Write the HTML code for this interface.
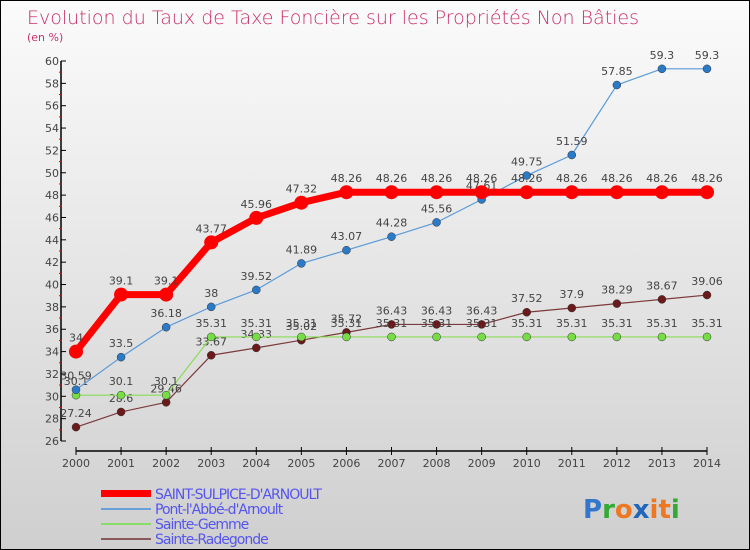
<!DOCTYPE html>
<html><head><meta charset="utf-8"><style>
body{margin:0}
#c{width:748px;height:548px;border:1px solid #000;background:linear-gradient(#fbfbfb,#cfcfcf);position:relative;font-family:"DejaVu Sans","Liberation Sans",sans-serif;overflow:hidden}
</style></head><body>
<div id="c">
<svg id="s" width="748" height="548" xmlns="http://www.w3.org/2000/svg">
<text x="26" y="23" font-size="19" fill="#c8306a" style="font-family:'DejaVu Sans',sans-serif;font-weight:200">Evolution du Taux de Taxe Foncière sur les Propriétés Non Bâties</text>
<text x="26" y="40" font-size="11" fill="#c8306a">(en %)</text>
<g id="axes"></g><g id="series"></g>
<g>
<rect x="100" y="489" width="50" height="7" fill="#ff0000"/>
<text x="154" y="498" font-size="14" fill="#5555ee" style="letter-spacing:-1px">SAINT-SULPICE-D'ARNOULT</text>
<rect x="100" y="507" width="50" height="2" fill="#6aa0d8"/>
<text x="154" y="513" font-size="14" fill="#5555ee" style="letter-spacing:-1px">Pont-l'Abbé-d'Arnoult</text>
<rect x="100" y="522" width="50" height="2" fill="#88dd66"/>
<text x="154" y="528" font-size="14" fill="#5555ee" style="letter-spacing:-1px">Sainte-Gemme</text>
<rect x="100" y="537" width="50" height="2" fill="#8a5a5a"/>
<text x="154" y="543" font-size="14" fill="#5555ee" style="letter-spacing:-1px">Sainte-Radegonde</text>
</g>
<text x="582" y="517" font-size="26" font-weight="bold" style="font-family:'DejaVu Sans',sans-serif"><tspan fill="#3377cc">P</tspan><tspan fill="#33aa33">r</tspan><tspan fill="#ee7722">o</tspan><tspan fill="#2266bb">x</tspan><tspan fill="#ee7722">i</tspan><tspan fill="#ee7722">t</tspan><tspan fill="#33aa33">i</tspan></text>
</svg></div>
<script>
const years=["2000","2001","2002","2003","2004","2005","2006","2007","2008","2009","2010","2011","2012","2013","2014"];
const yTicks=[26,28,30,32,34,36,38,40,42,44,46,48,50,52,54,56,58,60];
const sulpice=[34,39.1,39.1,43.77,45.96,47.32,48.26,48.26,48.26,48.26,48.26,48.26,48.26,48.26,48.26];
const pont=[30.59,33.5,36.18,38,39.52,41.89,43.07,44.28,45.56,47.61,49.75,51.59,57.85,59.3,59.3];
const gemme=[30.1,30.1,30.1,35.31,35.31,35.31,35.31,35.31,35.31,35.31,35.31,35.31,35.31,35.31,35.31];
const radegonde=[27.24,28.6,29.46,33.67,34.33,35.02,35.72,36.43,36.43,36.43,37.52,37.9,38.29,38.67,39.06];
const NS="http://www.w3.org/2000/svg";
const X=i=>75+i*(631/(years.length-1));
const Y=v=>440-(v-26)*(380/34);
function mk(t,a,p){const e=document.createElementNS(NS,t);for(const k in a)e.setAttribute(k,a[k]);p.appendChild(e);return e;}
const ax=document.getElementById('axes');
let yl=mk('line',{x1:60,y1:Y(60),x2:60,y2:Y(26),stroke:'#000','stroke-width':1.5},ax);


yTicks.forEach(v=>{
 let t=mk('line',{x1:60,x2:65,y1:Y(v),y2:Y(v),stroke:'#000'},ax);
 
 
 let r=mk('line',{x1:58,x2:61,y1:Y(v+1),y2:Y(v+1),stroke:'#e00'},ax);
 if(v===60)r.remove();
 let l=mk('text',{x:58,y:Y(v)+4,'text-anchor':'end','font-size':11,fill:'#444'},ax);
 l.textContent=v;
 
 
});
let xl=mk('line',{x1:X(0),y1:450,x2:X(years.length-1),y2:450,stroke:'#000','stroke-width':1.5},ax);


years.forEach((y,i)=>{
 mk('line',{x1:X(i),x2:X(i),y1:446,y2:454,stroke:'#000'},ax);
 let l=mk('text',{x:X(i),y:466,'text-anchor':'middle','font-size':11,fill:'#444'},ax);
 l.textContent=y;
 
 
});
const sg=document.getElementById('series');
function draw(data,name,col,dot,w,r){
 const g=mk('g',{},sg);
 
 
 const pl=mk('polyline',{points:data.map((v,i)=>X(i)+','+Y(v)).join(' '),fill:'none',stroke:col,'stroke-width':w,'stroke-linejoin':'round'},g);
 
 
 data.forEach((v,i)=>{
  const c=mk('circle',{cx:X(i),cy:Y(v),r:r,fill:dot,stroke:col==='#ff0000'?'none':'#333','stroke-width':0.5},g);
  
  
  const t=mk('text',{x:X(i),y:Y(v)-10,'text-anchor':'middle','font-size':11,fill:'#444'},g);
  t.textContent=v;
  
  
 });
}
draw(radegonde,'sainte-radegonde','#7a3a3a','#6a1a1a',1.2,4);
draw(gemme,'sainte-gemme','#88dd55','#77dd44',1.2,4);
draw(pont,'pont-l-abbe-d-arnoult','#5a9ad8','#2a7ac8',1.2,4);
draw(sulpice,'saint-sulpice-d-arnoult','#ff0000','#ff0000',7,7);
</script>
</body></html>
